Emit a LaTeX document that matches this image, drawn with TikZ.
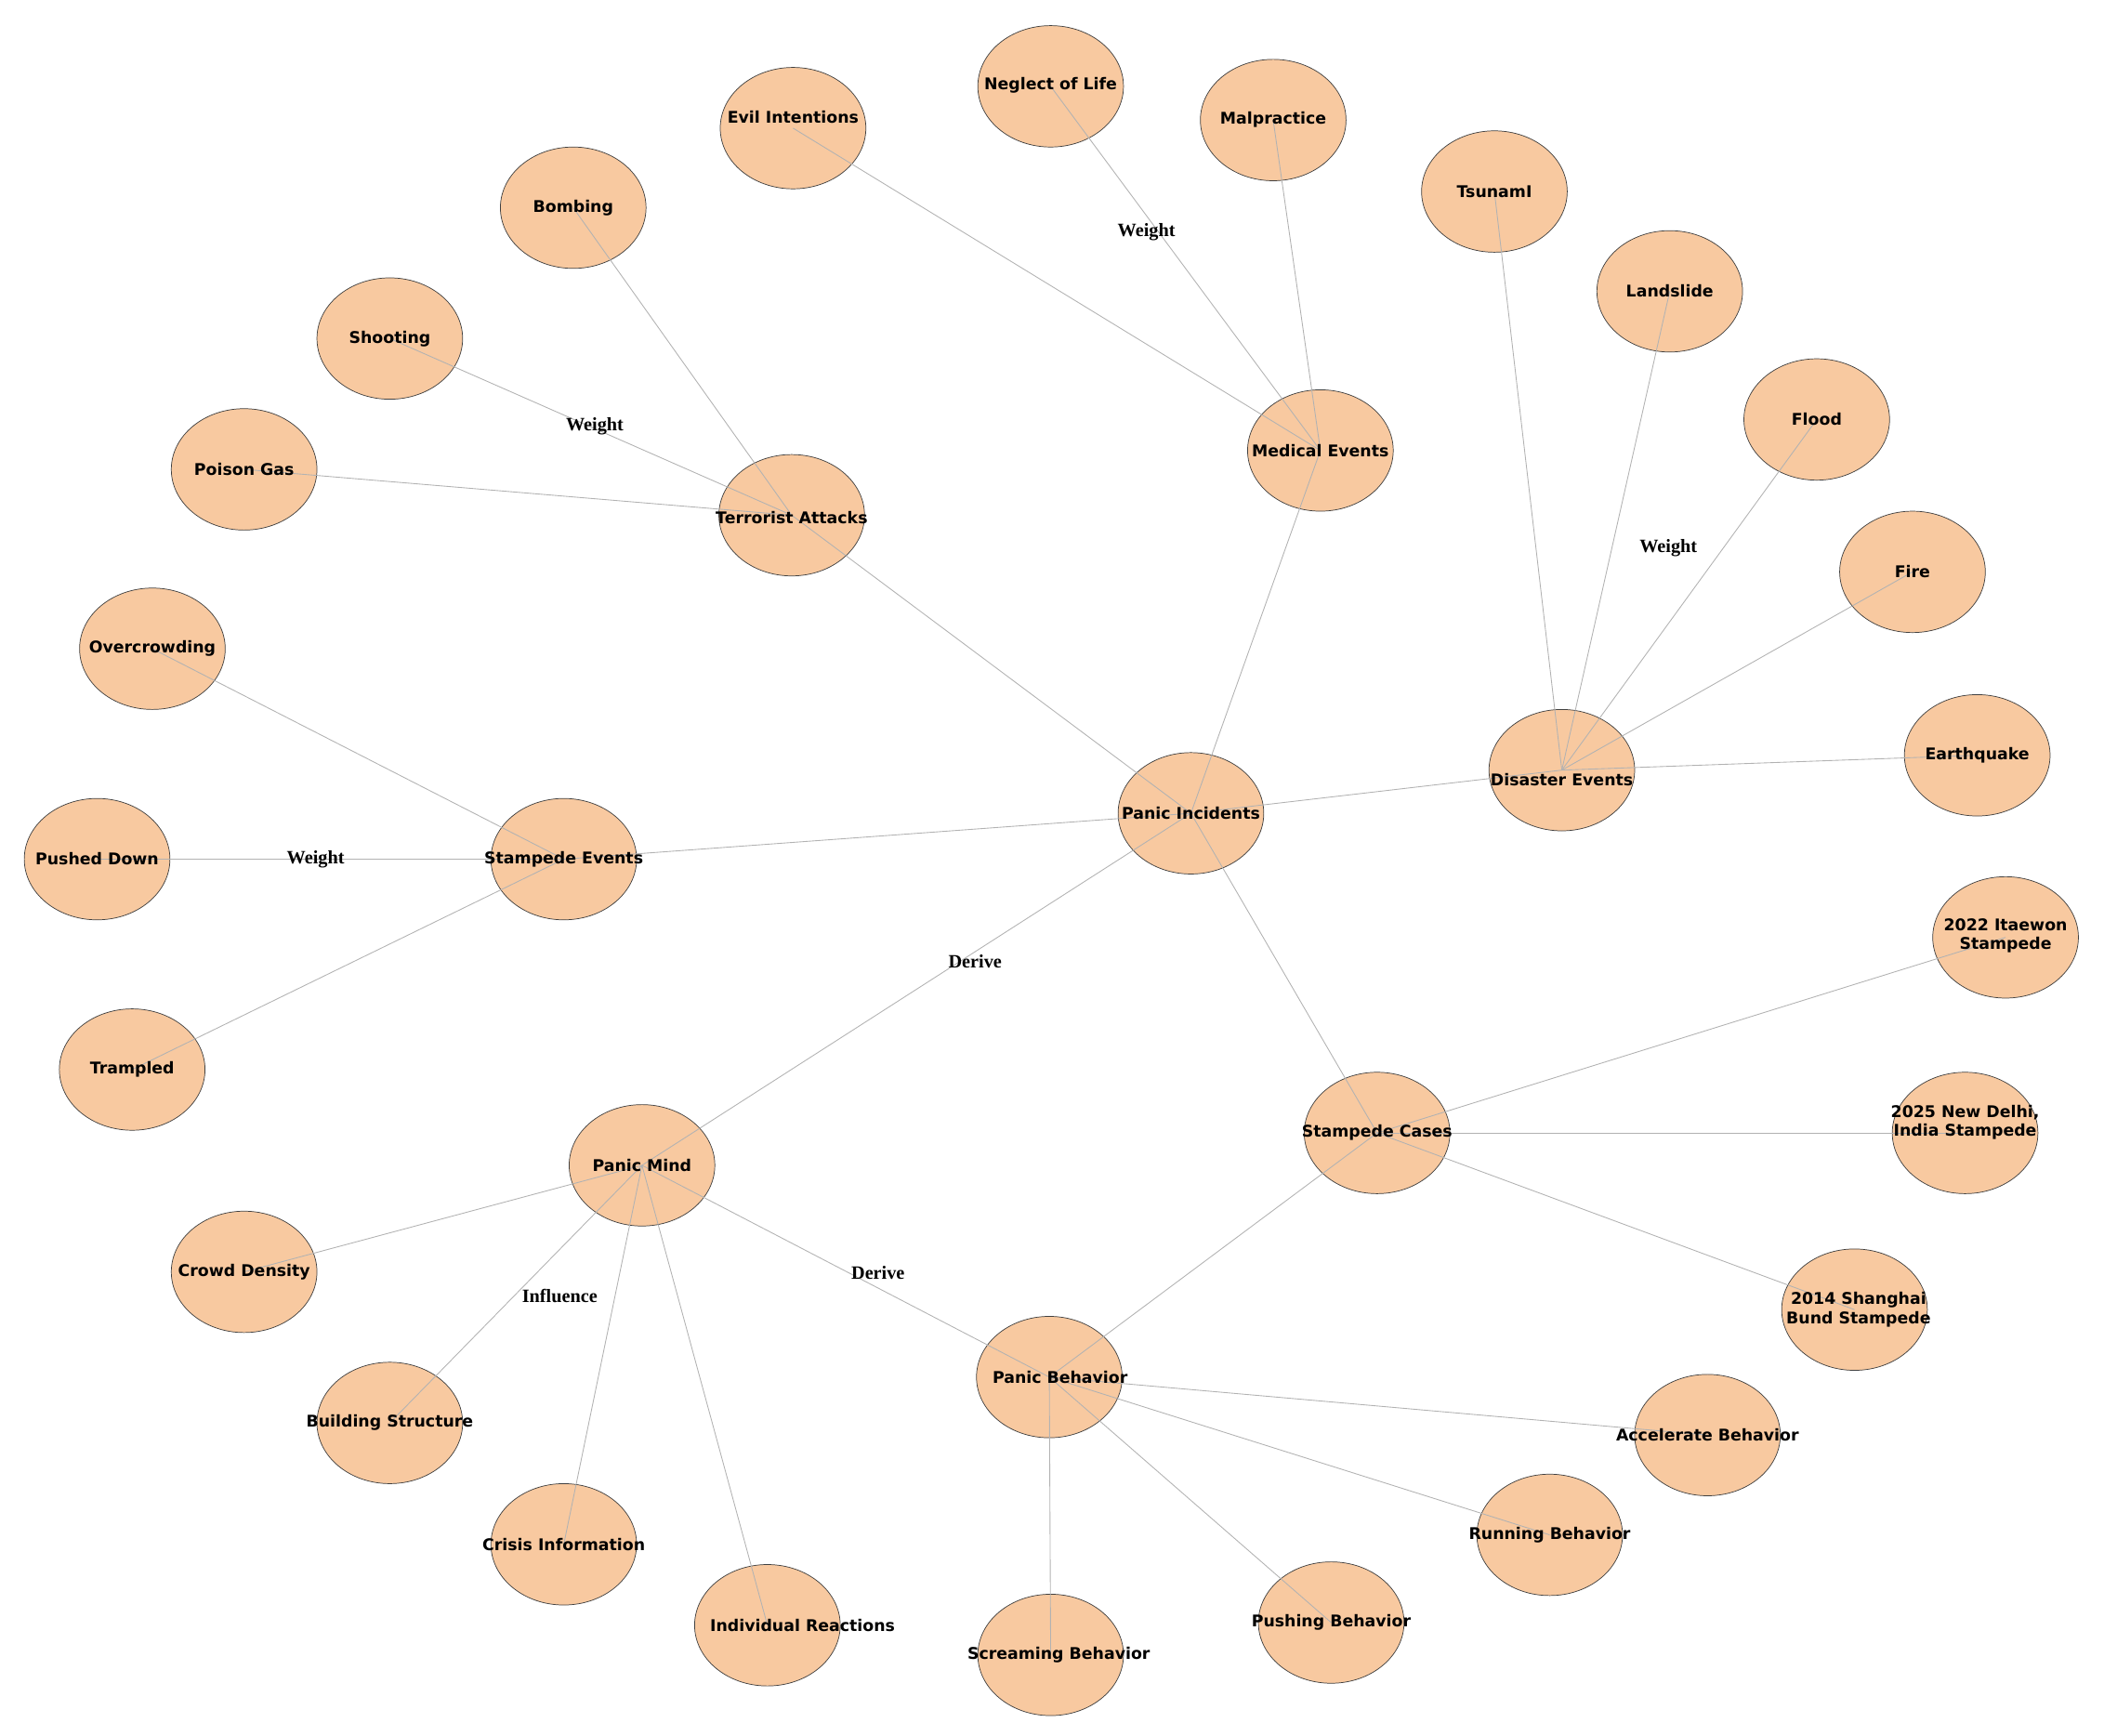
\documentclass[tikz,border=0pt]{standalone}
\usepackage{fontspec}
\setmainfont{DejaVu Sans}
\newfontfamily\lblfont{Liberation Serif}
\begin{document}
\begin{tikzpicture}[x=1bp,y=-1bp,
  ell/.style={ellipse,draw=black!75,line width=0.5pt,fill=nodefill,minimum width=108bp,minimum height=90bp,inner sep=0pt},
  txt/.style={font=\bfseries\fontsize{12}{14}\selectfont,align=center,inner sep=0pt},
  edge/.style={draw=black!30,line width=0.6pt},
  elab/.style={font=\lblfont\bfseries\fontsize{14}{16}\selectfont,inner sep=1pt}]
\usetikzlibrary{shapes.geometric}
\definecolor{nodefill}{HTML}{F8C9A0}
\useasboundingbox (0,0) rectangle (1560,1287);
% ellipses: name/x/y
\foreach \n/\x/\y in {inc/883/603,ter/587/382,med/979/334,dis/1158/571,ste/418/637,stc/1021/840,mind/476/864,beh/778/1021,
 evil/588/95,negl/779/64,malp/944/89,tsu/1108/142,land/1238/216,flood/1347/311,fire/1418/424,earth/1466/560,
 bomb/425/154,shoot/289/251,poison/181/348,over/113/481,push/72/637,tramp/98/793,
 it/1487/695,nd/1457/840,sh/1375/971,acc/1266/1064,run/1149/1138,pb/987/1203,scr/779/1227,ind/569/1205,cri/418/1145,bui/289/1055,cro/181/943}
 {\node[ell] (\n) at (\x,\y) {};}
% edges
\foreach \a/\b in {inc/ter,inc/med,inc/dis,inc/ste,inc/stc,inc/mind,ter/bomb,ter/shoot,ter/poison,med/evil,med/negl,med/malp,
 dis/tsu,dis/land,dis/flood,dis/fire,dis/earth,ste/over,ste/push,ste/tramp,stc/it,stc/nd,stc/sh,stc/beh,
 mind/cro,mind/bui,mind/cri,mind/ind,mind/beh,beh/acc,beh/run,beh/pb,beh/scr}
 {\draw[edge] (\a.center) -- (\b.center);}
% texts
\foreach \n/\x/\y/\t in {tinc/883/603/Panic Incidents,tter/587/384/Terrorist Attacks,tmed/979/334/Medical Events,tdis/1158/578/Disaster Events,
 tste/418/637/Stampede Events,tstc/1021/840/Stampede Cases,tmind/476/864/Panic Mind,tbeh/786/1021/Panic Behavior,
 tevil/588/87/Evil Intentions,tnegl/779/63/Neglect of Life,tmalp/944/89/Malpractice,ttsu/1108/142/TsunamI,tland/1238/216/Landslide,
 tflood/1347/311/Flood,tfire/1418/424/Fire,tearth/1466/560/Earthquake,tbomb/425/154/Bombing,tshoot/289/251/Shooting,
 tpoison/181/348/Poison Gas,tover/113/481/Overcrowding,tpush/72/637/Pushed Down,ttramp/98/793/Trampled,
 tacc/1266/1064/Accelerate Behavior,trun/1149/1138/Running Behavior,tpb/987/1203/Pushing Behavior,tscr/785/1227/Screaming Behavior,
 tind/595/1205/Individual Reactions,tcri/418/1145/Crisis Information,tbui/289/1055/Building Structure,tcro/181/943/Crowd Density}
 {\node[txt] (\n) at (\x,\y) {\t};}
\node[txt] (tit) at (1487,694) {2022 Itaewon\\Stampede};
\node[txt] (tnd) at (1457,832) {2025 New Delhi,\\India Stampede};
\node[txt] (tsh) at (1378,971) {2014 Shanghai\\Bund Stampede};
% edge labels
\node[elab] (w1) at (850,172) {Weight};
\node[elab] (w2) at (441,316) {Weight};
\node[elab] (w3) at (1237,406) {Weight};
\node[elab] (w4) at (234,637) {Weight};
\node[elab] (d1) at (723,713) {Derive};
\node[elab] (d2) at (651,944) {Derive};
\node[elab] (i1) at (415,961) {Influence};
\end{tikzpicture}
\end{document}
